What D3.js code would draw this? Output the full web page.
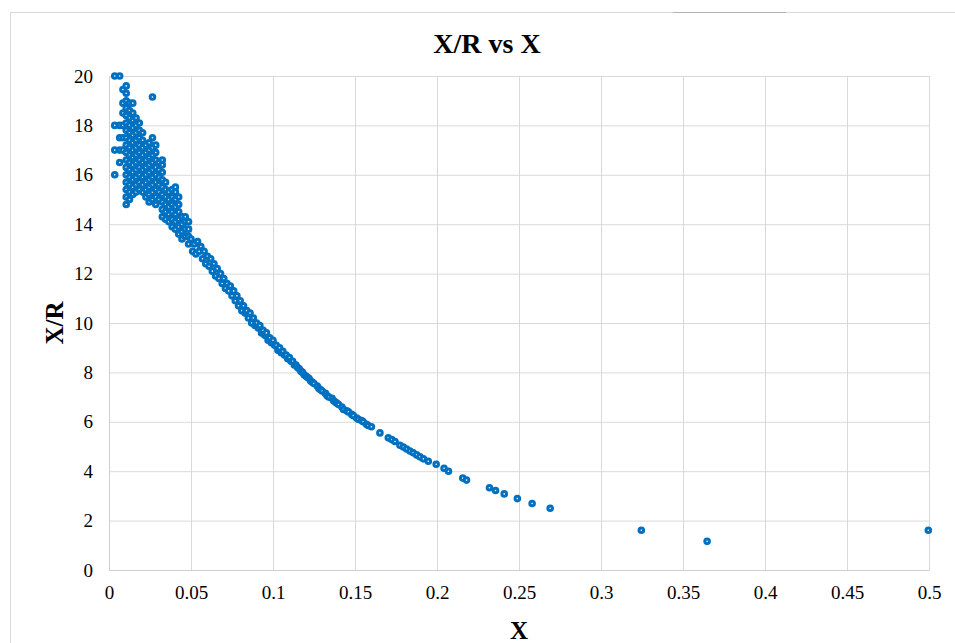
<!DOCTYPE html>
<html>
<head>
<meta charset="utf-8">
<script src="https://cdn.jsdelivr.net/npm/d3@7"></script>
<style>
  body { margin: 0; background: #fff; }
  svg { display: block; }
</style>
</head>
<body>
<svg id="chart" width="955" height="643"></svg>
<script>
// ticks
const xTicks = [0, 0.05, 0.1, 0.15, 0.2, 0.25, 0.3, 0.35, 0.4, 0.45, 0.5];
const yTicks = [0, 2, 4, 6, 8, 10, 12, 14, 16, 18, 20];

// dense group at small X: one X per column, list of X/R values per column
const clusterX = [0.0035, 0.0065, 0.0085, 0.0105, 0.0125, 0.0145, 0.0165, 0.0185, 0.0205, 0.0225,
  0.0245, 0.0265, 0.0285, 0.0305, 0.0325, 0.0345, 0.0365, 0.0385, 0.0405, 0.0425, 0.0445, 0.0465, 0.0485];
const clusterY = [
  [16.0, 17.0, 18.0, 20.0],
  [16.5, 17.0, 17.5, 18.0, 20.0],
  [17.0, 17.5, 18.0, 18.5, 18.9, 19.45],
  [14.8, 15.1, 15.4, 15.7, 16.0, 16.3, 16.6, 16.9, 17.2, 17.5, 17.8, 18.1, 18.4, 18.7, 19.0, 19.3, 19.6],
  [15.0, 15.3, 15.6, 15.9, 16.2, 16.5, 16.8, 17.1, 17.4, 17.7, 18.0, 18.3, 18.6, 18.9],
  [15.2, 15.5, 15.8, 16.1, 16.4, 16.7, 17.0, 17.3, 17.6, 17.9, 18.2, 18.5, 18.9],
  [15.3, 15.6, 15.9, 16.2, 16.5, 16.8, 17.1, 17.4, 17.7, 18.0, 18.3],
  [15.4, 15.7, 16.0, 16.3, 16.6, 16.9, 17.2, 17.5, 17.8, 18.1],
  [15.3, 15.6, 15.9, 16.2, 16.5, 16.8, 17.1, 17.4, 17.7],
  [15.1, 15.4, 15.7, 16.0, 16.3, 16.6, 16.9, 17.2],
  [14.9, 15.2, 15.5, 15.8, 16.1, 16.4, 16.7, 17.0, 17.3],
  [15.0, 15.3, 15.6, 15.9, 16.2, 16.5, 16.8, 17.1, 17.5, 19.15],
  [14.8, 15.1, 15.4, 15.7, 16.0, 16.3, 16.6, 16.9, 17.2],
  [15.0, 15.3, 15.6, 15.9, 16.2, 16.5],
  [14.3, 14.6, 14.9, 15.2, 15.5, 15.8, 16.1, 16.4, 16.6],
  [14.2, 14.5, 14.8, 15.1, 15.4, 15.7],
  [14.1, 14.4, 14.7, 15.0, 15.3],
  [13.9, 14.2, 14.5, 14.8, 15.1, 15.4],
  [13.8, 14.1, 14.4, 14.7, 15.0, 15.3, 15.5],
  [13.6, 13.9, 14.2, 14.5, 14.8, 15.1],
  [13.4, 13.7, 14.0, 14.3],
  [13.5, 13.8, 14.1, 14.3],
  [13.2, 13.5, 13.8, 14.1]
];

// the falling curve
const curveX = [0.050, 0.051, 0.052, 0.053, 0.054, 0.055, 0.056, 0.057, 0.058, 0.059,
  0.060, 0.061, 0.062, 0.063, 0.064, 0.065, 0.066, 0.067, 0.068, 0.069,
  0.070, 0.071, 0.072, 0.073, 0.074, 0.075, 0.076, 0.077, 0.078, 0.079,
  0.080, 0.081, 0.082, 0.083, 0.084, 0.085, 0.086, 0.087, 0.088, 0.089,
  0.090, 0.091, 0.092, 0.093, 0.094, 0.095, 0.096, 0.097, 0.098, 0.099,
  0.100, 0.101, 0.102, 0.103, 0.104, 0.105, 0.106, 0.107, 0.108, 0.109,
  0.110, 0.111, 0.112, 0.113, 0.114, 0.115, 0.116, 0.117, 0.118, 0.119,
  0.120, 0.121, 0.122, 0.123, 0.124, 0.125, 0.127, 0.128, 0.129, 0.130,
  0.132, 0.133, 0.134, 0.136, 0.137, 0.138, 0.139, 0.140, 0.142, 0.143,
  0.145, 0.146, 0.148, 0.149, 0.151, 0.152, 0.154, 0.155, 0.157, 0.158,
  0.160, 0.1652, 0.1703, 0.1724, 0.1744, 0.1774, 0.1795, 0.1815, 0.1835, 0.1855,
  0.1876, 0.1896, 0.1917, 0.1947, 0.1995, 0.2043, 0.207, 0.2157, 0.218, 0.232,
  0.2357, 0.241, 0.249, 0.258, 0.269, 0.3246, 0.3647, 0.4996];
const curveY = [13.4, 12.9, 13.2, 12.8, 13.3, 12.9, 13.1, 12.6, 12.9, 12.4,
  12.7, 12.3, 12.6, 12.1, 12.4, 11.9, 12.2, 11.8, 12.0, 11.6,
  11.8, 11.4, 11.6, 11.3, 11.5, 11.1, 11.3, 10.9, 11.1, 10.7,
  10.9, 10.5, 10.7, 10.4, 10.5, 10.2, 10.4, 10.0, 10.2, 9.9,
  10.0, 9.8, 9.9, 9.6, 9.7, 9.5, 9.6, 9.3, 9.4, 9.2,
  9.3, 9.1, 9.1, 8.9, 9.0, 8.8, 8.85, 8.7, 8.7, 8.55,
  8.6, 8.45, 8.45, 8.3, 8.3, 8.2, 8.15, 8.05, 8.0, 7.9,
  7.85, 7.8, 7.75, 7.65, 7.6, 7.55, 7.45, 7.35, 7.3, 7.25,
  7.15, 7.05, 7.0, 6.95, 6.85, 6.8, 6.75, 6.7, 6.6, 6.5,
  6.45, 6.4, 6.3, 6.25, 6.15, 6.1, 6.05, 6.0, 5.9, 5.85,
  5.8, 5.55, 5.35, 5.28, 5.2, 5.05, 4.98, 4.9, 4.82, 4.75,
  4.66, 4.58, 4.5, 4.4, 4.28, 4.12, 4.0, 3.72, 3.64, 3.33,
  3.22, 3.08, 2.89, 2.69, 2.5, 1.61, 1.16, 1.61];

const points = [];
clusterX.forEach((cx, i) => clusterY[i].forEach(v => points.push({ x: cx, y: v })));
curveX.forEach((cx, i) => points.push({ x: cx, y: curveY[i] }));

const svg = d3.select('#chart');
const margin = { top: 76, right: 26, bottom: 73, left: 109 };
const width = 955, height = 643;
const serif = '"Liberation Serif", "Times New Roman", serif';

// chart border
svg.append('rect')
  .attr('x', 10.5).attr('y', 12.5)
  .attr('width', 960).attr('height', 640)
  .attr('fill', '#fff').attr('stroke', '#d9d9d9');
svg.append('line')
  .attr('x1', 673).attr('x2', 786).attr('y1', 12.5).attr('y2', 12.5)
  .attr('stroke', '#b0b0b0');

const x = d3.scaleLinear().domain([0, 0.5]).range([margin.left, width - margin.right]);
const y = d3.scaleLinear().domain([0, 20]).range([height - margin.bottom, margin.top]);

// grid
svg.append('g')
  .attr('transform', `translate(0,${y(0)})`)
  .call(d3.axisBottom(x).tickValues(xTicks).tickSize(-(y(0) - y(20))).tickFormat(''))
  .call(g => g.select('.domain').remove())
  .call(g => g.selectAll('line').attr('stroke', '#d9d9d9'));
svg.append('g')
  .attr('transform', `translate(${x(0)},0)`)
  .call(d3.axisLeft(y).tickValues(yTicks).tickSize(-(x(0.5) - x(0))).tickFormat(''))
  .call(g => g.select('.domain').remove())
  .call(g => g.selectAll('line').attr('stroke', '#d9d9d9'));

// axes with labels
svg.append('g')
  .attr('transform', `translate(0,${y(0)})`)
  .call(d3.axisBottom(x).tickValues(xTicks).tickSize(0).tickPadding(16).tickFormat(d => String(d)))
  .call(g => g.select('.domain').attr('stroke', '#cfcfcf'))
  .call(g => g.selectAll('text').attr('font-family', serif).attr('font-size', 19).attr('fill', '#000'));
svg.append('g')
  .attr('transform', `translate(${x(0)},0)`)
  .call(d3.axisLeft(y).tickValues(yTicks).tickSize(0).tickPadding(16))
  .call(g => g.select('.domain').attr('stroke', '#cfcfcf'))
  .call(g => g.selectAll('text').attr('font-family', serif).attr('font-size', 19).attr('fill', '#000'));

// points
svg.append('g')
  .selectAll('circle')
  .data(points)
  .enter()
  .append('circle')
  .attr('cx', d => x(d.x))
  .attr('cy', d => y(d.y))
  .attr('r', 2.3)
  .attr('fill', '#fff')
  .attr('stroke', '#0070c0')
  .attr('stroke-width', 3);

// titles
svg.append('text')
  .attr('x', 487).attr('y', 53)
  .attr('text-anchor', 'middle')
  .attr('font-family', serif).attr('font-weight', 'bold').attr('font-size', 28)
  .text('X/R vs X');
svg.append('text')
  .attr('x', (x(0) + x(0.5)) / 2).attr('y', 639)
  .attr('text-anchor', 'middle')
  .attr('font-family', serif).attr('font-weight', 'bold').attr('font-size', 25)
  .text('X');
svg.append('text')
  .attr('transform', `translate(63,${(y(0) + y(20)) / 2}) rotate(-90)`)
  .attr('text-anchor', 'middle')
  .attr('font-family', serif).attr('font-weight', 'bold').attr('font-size', 25)
  .text('X/R');
</script>
</body>
</html>
